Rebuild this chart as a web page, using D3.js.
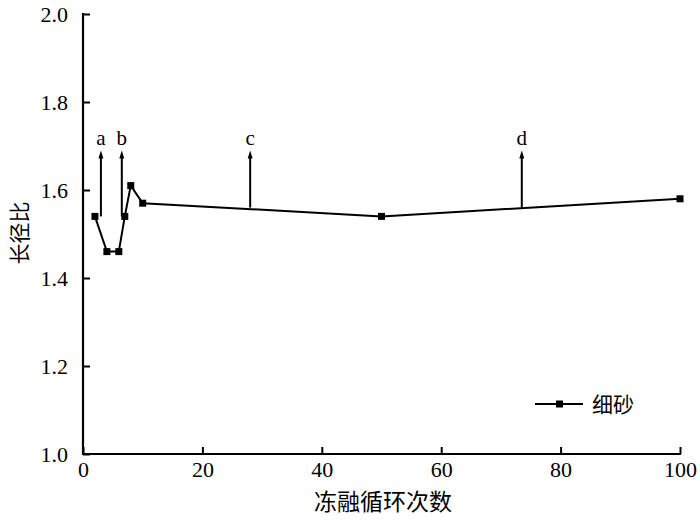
<!DOCTYPE html>
<html><head><meta charset="utf-8">
<script src="https://cdn.jsdelivr.net/npm/d3@7/dist/d3.min.js"></script>
<style>body{margin:0;background:#fff}</style>
</head><body>
<svg id="c" width="700" height="521" style="display:block"></svg>
<script>
const cycles = [2, 4, 6, 7, 8, 10, 50, 100];
const ratio = [1.54, 1.46, 1.46, 1.54, 1.61, 1.57, 1.54, 1.58];
const arrowX = [3, 6.5, 28, 73.5];
const arrowBase = [1.54, 1.54, 1.56, 1.56];
const arrowLabels = ["a", "b", "c", "d"];
const arrowTop = 1.69;
const xTicks = [0, 20, 40, 60, 80, 100];
const yTicks = [1.0, 1.2, 1.4, 1.6, 1.8, 2.0];
const seriesName = "细砂";

const svg = d3.select("#c");
const x = d3.scaleLinear().domain([0, 100]).range([83, 680]);
const y = d3.scaleLinear().domain([1.0, 2.0]).range([454, 14]);
const serif = "Liberation Serif, DejaVu Serif, serif";
const cjk = "Noto Sans CJK SC, sans-serif";

const xa = svg.append("g").attr("transform","translate(0,454)")
  .call(d3.axisBottom(x).tickValues(xTicks).tickSizeInner(-7).tickSizeOuter(0).tickPadding(7).tickFormat(d3.format("d")));
const ya = svg.append("g").attr("transform","translate(83,0)")
  .call(d3.axisLeft(y).tickValues(yTicks).tickSizeInner(-7).tickSizeOuter(0).tickPadding(15).tickFormat(d3.format(".1f")));
[xa, ya].forEach(g => {
  g.attr("font-family", serif).attr("font-size", 22);
  g.select(".domain").remove();
  g.selectAll(".tick line").attr("stroke","#000").attr("stroke-width",2);
  g.selectAll("text").style("font-family",serif).style("font-size","22px").attr("fill","#000");
});
svg.append("line").attr("x1",x(0)-1).attr("x2",x(100)+1).attr("y1",y(1)).attr("y2",y(1)).attr("stroke","#000").attr("stroke-width",2.2);
svg.append("line").attr("x1",x(0)).attr("x2",x(0)).attr("y1",y(1)+1).attr("y2",y(2)-1).attr("stroke","#000").attr("stroke-width",2.2);

svg.append("text").attr("x",383).attr("y",510).attr("text-anchor","middle")
  .style("font-family",cjk).style("font-size","23px").text("冻融循环次数");
svg.append("text").attr("transform","translate(27,233) rotate(-90)").attr("text-anchor","middle")
  .style("font-family",cjk).style("font-size","21px").text("长径比");

const pts = cycles.map((c,i)=>[c, ratio[i]]);
svg.append("path").datum(pts).attr("fill","none").attr("stroke","#000").attr("stroke-width",2)
  .attr("d", d3.line().x(d=>x(d[0])).y(d=>y(d[1])));
svg.selectAll("rect.pt").data(pts).join("rect").attr("class","pt")
  .attr("x",d=>x(d[0])-3.5).attr("y",d=>y(d[1])-3.5).attr("width",7).attr("height",7).attr("fill","#000");

arrowX.forEach((ax,i)=>{
  const px = x(ax), top = y(arrowTop);
  svg.append("line").attr("x1",px).attr("x2",px).attr("y1",y(arrowBase[i])).attr("y2",top+6)
    .attr("stroke","#000").attr("stroke-width",2);
  svg.append("path").attr("d",`M${px-2.5},${top+8}L${px},${top}L${px+2.5},${top+8}Z`).attr("fill","#000");
  svg.append("text").attr("x",px).attr("y",top-5).attr("text-anchor","middle")
    .style("font-family",serif).style("font-size","21px").text(arrowLabels[i]);
});

// legend
svg.append("line").attr("x1",535).attr("x2",583).attr("y1",404).attr("y2",404).attr("stroke","#000").attr("stroke-width",2);
svg.append("rect").attr("x",556).attr("y",400.5).attr("width",7).attr("height",7).attr("fill","#000");
svg.append("text").attr("x",592).attr("y",412).style("font-family",cjk).style("font-size","21px").text(seriesName);
</script>
</body></html>
